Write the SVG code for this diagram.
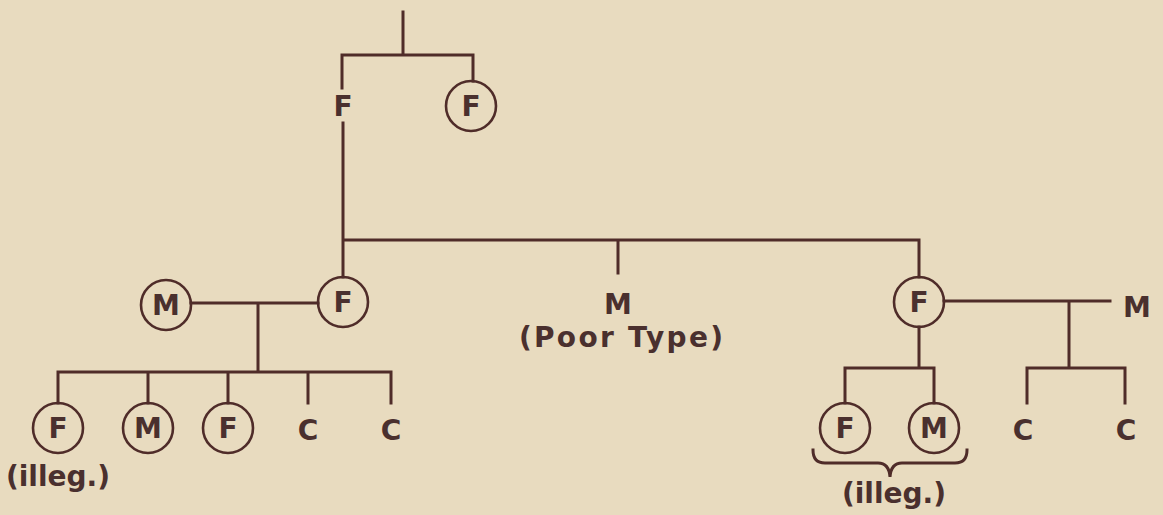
<svg xmlns="http://www.w3.org/2000/svg" width="1163" height="515" viewBox="0 0 1163 515">
<style>
.ln{fill:none;stroke:#4f2c29;stroke-width:3;stroke-linecap:square}
.ci{fill:none;stroke:#4f2c29;stroke-width:2.6}
.t{font-family:"DejaVu Sans",sans-serif;font-weight:bold;font-size:28px;fill:#4a302e;text-anchor:middle}
</style>
<rect width="1163" height="515" fill="#e8dbbf"/>
<g id="connectors">
<path class="ln" d="M403,12 V55 M342,88 V55 H473 V81"/>
<path class="ln" d="M343,123 V277 M343,240 H919 V277 M618,240 V273"/>
<path class="ln" d="M191,303 H318 M258,303 V372 M58,403 V372 H391 V403 M148,372 V403 M228,372 V403 M308,372 V403"/>
<path class="ln" d="M944,301 H1110 M1069,301 V368 M1027,403 V368 H1125 V403 M919,327 V368 M845,403 V368 H934 V403"/>
<path class="ln" d="M813,450 Q813,463 825,463 H878 Q889,463 890,477 Q891,463 902,463 H955 Q967,463 967,450" stroke-linecap="round"/>
</g>
<g id="top_f"><text class="t" x="343" y="116">F</text></g>
<g id="top_fc"><circle class="ci" cx="471" cy="106" r="25"/><text class="t" x="471" y="116">F</text></g>
<g id="left_m"><circle class="ci" cx="166" cy="305" r="25"/><text class="t" x="166" y="315">M</text></g>
<g id="left_f"><circle class="ci" cx="343" cy="302" r="25"/><text class="t" x="343" y="312">F</text></g>
<g id="mid_m"><text class="t" x="618" y="314">M</text><text class="t" x="621" y="347" textLength="204" lengthAdjust="spacing">(Poor Type)</text></g>
<g id="right_f"><circle class="ci" cx="919" cy="302" r="25"/><text class="t" x="919" y="312">F</text></g>
<g id="right_m"><text class="t" x="1137" y="317">M</text></g>
<g id="lc1"><circle class="ci" cx="58" cy="428" r="25"/><text class="t" x="58" y="438">F</text><text class="t" x="58" y="486">(illeg.)</text></g>
<g id="lc2"><circle class="ci" cx="148" cy="428" r="25"/><text class="t" x="148" y="438">M</text></g>
<g id="lc3"><circle class="ci" cx="228" cy="428" r="25"/><text class="t" x="228" y="438">F</text></g>
<g id="lc4"><text class="t" x="308" y="440">C</text></g>
<g id="lc5"><text class="t" x="391" y="440">C</text></g>
<g id="rc1"><circle class="ci" cx="845" cy="428" r="25"/><text class="t" x="845" y="438">F</text></g>
<g id="rc2"><circle class="ci" cx="934" cy="428" r="25"/><text class="t" x="934" y="438">M</text></g>
<g id="rc_label"><text class="t" x="894" y="503">(illeg.)</text></g>
<g id="rc3"><text class="t" x="1023" y="440">C</text></g>
<g id="rc4"><text class="t" x="1126" y="440">C</text></g>
</svg>
